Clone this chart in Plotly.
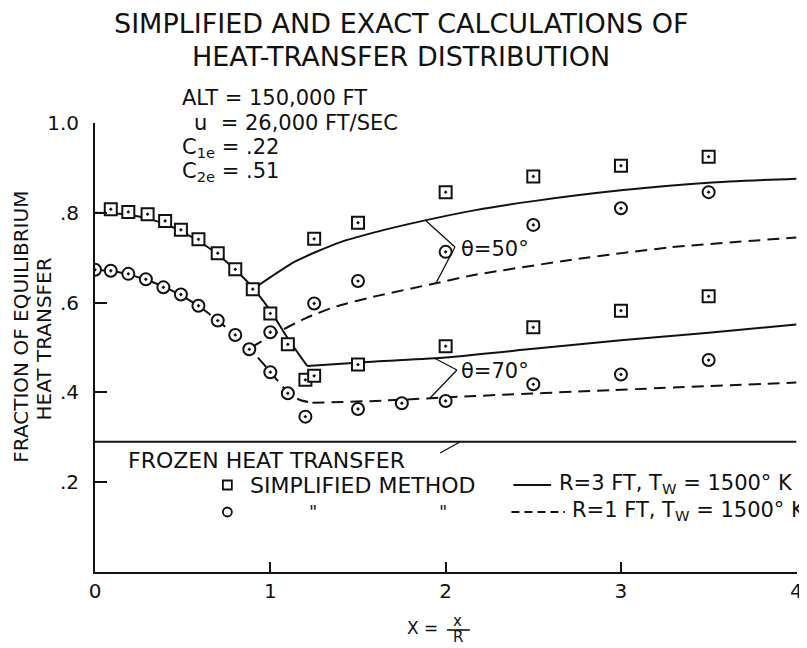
import plotly.graph_objects as go

# ---------------- data ----------------
# Simplified method, R = 3 ft (squares)
sq_main_x = [0.09, 0.19, 0.30, 0.40, 0.49, 0.59, 0.70, 0.80, 0.90, 1.00, 1.10, 1.20]
sq_main_y = [0.808, 0.802, 0.797, 0.782, 0.762, 0.741, 0.710, 0.674, 0.630, 0.576, 0.507, 0.428]
sq50_x = [1.25, 1.50, 2.00, 2.50, 3.00, 3.50]
sq50_y = [0.742, 0.778, 0.846, 0.881, 0.905, 0.925]
sq70_x = [1.25, 1.50, 2.00, 2.50, 3.00, 3.50]
sq70_y = [0.437, 0.462, 0.503, 0.545, 0.582, 0.614]

# Simplified method, R = 1 ft (circles)
ci_main_x = [0.00, 0.09, 0.19, 0.29, 0.39, 0.49, 0.59, 0.70, 0.80, 0.88, 1.00, 1.10, 1.20]
ci_main_y = [0.673, 0.671, 0.664, 0.652, 0.634, 0.618, 0.593, 0.560, 0.528, 0.496, 0.445, 0.398, 0.346]
ci50_x = [1.00, 1.25, 1.50, 2.00, 2.50, 3.00, 3.50]
ci50_y = [0.534, 0.598, 0.648, 0.713, 0.773, 0.810, 0.846]
ci70_x = [1.50, 1.75, 2.00, 2.50, 3.00, 3.50]
ci70_y = [0.363, 0.376, 0.381, 0.418, 0.440, 0.472]

# Exact calculations, R = 3 ft (solid)
sol_main_x = [0, 0.1, 0.2, 0.3, 0.4, 0.5, 0.6, 0.7, 0.8, 0.9, 1.0, 1.1, 1.21]
sol_main_y = [0.800, 0.799, 0.795, 0.787, 0.775, 0.757, 0.735, 0.707, 0.673, 0.633, 0.582, 0.520, 0.459]
sol50_x = [0.92, 1.14, 1.38, 1.60, 1.87, 2.17, 2.50, 3.00, 3.50, 4.00]
sol50_y = [0.635, 0.691, 0.732, 0.757, 0.782, 0.806, 0.826, 0.850, 0.867, 0.876]
sol70_x = [1.21, 1.60, 2.00, 2.50, 3.00, 3.50, 4.00]
sol70_y = [0.459, 0.469, 0.478, 0.497, 0.516, 0.533, 0.551]

# Exact calculations, R = 1 ft (dashed)
dash_main_x = [0, 0.1, 0.2, 0.3, 0.4, 0.5, 0.6, 0.7, 0.8, 0.9, 1.0, 1.1, 1.17, 1.24]
dash_main_y = [0.673, 0.670, 0.662, 0.650, 0.634, 0.614, 0.590, 0.560, 0.527, 0.490, 0.446, 0.400, 0.383, 0.377]
dash50_x = [0.89, 1.00, 1.20, 1.38, 1.61, 1.93, 2.17, 2.75, 3.28, 4.00]
dash50_y = [0.500, 0.525, 0.565, 0.592, 0.615, 0.642, 0.662, 0.697, 0.723, 0.745]
dash70_x = [1.24, 1.60, 2.17, 2.94, 4.00]
dash70_y = [0.377, 0.381, 0.392, 0.405, 0.422]

frozen_x = [0, 4]
frozen_y = [0.29, 0.29]

x_ticks = [0, 1, 2, 3, 4]
x_tick_text = ["0", "1", "2", "3", "4"]
y_ticks = [0.2, 0.4, 0.6, 0.8, 1.0]
y_tick_text = [".2", ".4", ".6", ".8", "1.0"]

# ---------------- figure ----------------
FONT = "DejaVu Sans"
INK = "#111111"
OFF = 8                      # page body margin
X_MAX = 4.004                # tiny headroom so the x = 4 tick is kept
W, H = 807 - OFF, 648 - OFF
L_S, B_S = 95, 572           # plot-area left / bottom in screen pixels
PW, PH = 708, 449
L, T = L_S - OFF, B_S - PH - OFF
R, B = W - L - PW, H - T - PH


def px(x):
    return (x - L_S) / PW


def py(y):
    return (B_S - y) / PH


fig = go.Figure()

DASH = "12px,7px"
line_sets = [
    (sol_main_x, sol_main_y, "solid"),
    (sol50_x, sol50_y, "solid"),
    (sol70_x, sol70_y, "solid"),
    (dash_main_x, dash_main_y, DASH),
    (dash50_x, dash50_y, DASH),
    (dash70_x, dash70_y, DASH),
    (frozen_x, frozen_y, "solid"),
]
for xs, ys, dash in line_sets:
    fig.add_trace(go.Scatter(x=xs, y=ys, mode="lines",
                             line=dict(color=INK, width=2, dash=dash, shape="spline", smoothing=0.6),
                             showlegend=False, hoverinfo="skip"))

for xs, ys in [(sq_main_x, sq_main_y), (sq50_x, sq50_y), (sq70_x, sq70_y)]:
    fig.add_trace(go.Scatter(x=xs, y=ys, mode="markers",
                             marker=dict(symbol="square-dot", size=12, color="white",
                                         line=dict(color=INK, width=2)),
                             showlegend=False))
for xs, ys in [(ci_main_x, ci_main_y), (ci50_x, ci50_y), (ci70_x, ci70_y)]:
    fig.add_trace(go.Scatter(x=xs, y=ys, mode="markers",
                             marker=dict(symbol="circle-dot", size=12, color="white",
                                         line=dict(color=INK, width=2)),
                             showlegend=False))

ann = []


def text(x, y, s, size, xanchor="left", angle=0):
    ann.append(dict(x=px(x), y=py(y), xref="paper", yref="paper", text=s, showarrow=False,
                    xanchor=xanchor, yanchor="middle", textangle=angle,
                    font=dict(family=FONT, size=size, color=INK)))


# title
text(404, 24, "SIMPLIFIED AND EXACT CALCULATIONS OF", 27, "center")
text(404, 56, "HEAT-TRANSFER DISTRIBUTION", 27, "center")

# conditions block
text(181, 98, "ALT = 150,000 FT", 21)
text(193, 123, "u  = 26,000 FT/SEC", 21)
text(181, 148, "C<sub>1e</sub> = .22", 21)
text(181, 172, "C<sub>2e</sub> = .51", 21)

# y-axis title
text(20, 327, "FRACTION OF EQUILIBRIUM", 20, "center", -90)
text(44, 339, "HEAT TRANSFER", 20, "center", -90)

# x-axis title  X = x/R
text(425, 628, "X =", 17, "center")
text(461, 621, "x", 15, "center")
text(461, 637, "R", 15, "center")

# theta labels
text(462, 249, "θ=50°", 21)
text(462, 371, "θ=70°", 21)

# legend block
text(126, 460, "FROZEN HEAT TRANSFER", 22)
text(249, 485, "SIMPLIFIED METHOD", 22)
text(561, 484, "R=3 FT, T<sub>W</sub> = 1500° K", 21)
text(315, 512, "\"", 18, "center")
text(446, 512, "\"", 18, "center")
text(574, 511, "R=1 FT, T<sub>W</sub> = 1500° K", 21)

shapes = []


def seg(x0, y0, x1, y1, width=1.3, dash="solid"):
    shapes.append(dict(type="line", xref="paper", yref="paper",
                       x0=px(x0), y0=py(y0), x1=px(x1), y1=py(y1),
                       line=dict(color=INK, width=width, dash=dash)))


# bracket leaders
seg(429, 221, 458, 247)
seg(458, 247, 439, 283)
seg(437, 358, 460, 370)
seg(460, 370, 433, 398)
# frozen leader
seg(443, 453, 463, 442)
# fraction bar
seg(450, 630, 473, 630, 1.6)
# legend line samples
seg(517, 485, 555, 485, 2)
seg(515, 512, 569, 512, 2, "8px,5px")
# legend symbols
shapes.append(dict(type="rect", xref="paper", yref="paper",
                   x0=px(224), x1=px(233), y0=py(480.5), y1=py(489.5),
                   line=dict(color=INK, width=1.8)))
shapes.append(dict(type="circle", xref="paper", yref="paper",
                   x0=px(224), x1=px(233), y0=py(507.5), y1=py(516.5),
                   line=dict(color=INK, width=1.8)))

fig.update_layout(
    width=W, height=H,
    margin=dict(l=L, r=R, t=T, b=B, pad=0),
    paper_bgcolor="white", plot_bgcolor="white",
    font=dict(family=FONT, color=INK),
    showlegend=False,
    annotations=ann,
    shapes=shapes,
    xaxis=dict(range=[0, X_MAX], tickvals=x_ticks, ticktext=x_tick_text,
               showline=True, linecolor=INK, linewidth=2, mirror=False,
               ticks="inside", ticklen=10, tickwidth=2, tickcolor=INK,
               showgrid=False, zeroline=False, ticklabeloverflow="allow",
               tickfont=dict(family=FONT, size=20, color=INK), ticklabelstandoff=0),
    yaxis=dict(range=[0, 1.0], tickvals=y_ticks, ticktext=y_tick_text,
               showline=True, linecolor=INK, linewidth=2, mirror=False,
               ticks="inside", ticklen=12, tickwidth=2, tickcolor=INK,
               showgrid=False, zeroline=False,
               tickfont=dict(family=FONT, size=20, color=INK), ticklabelstandoff=10),
)

fig.write_html("out.html")
